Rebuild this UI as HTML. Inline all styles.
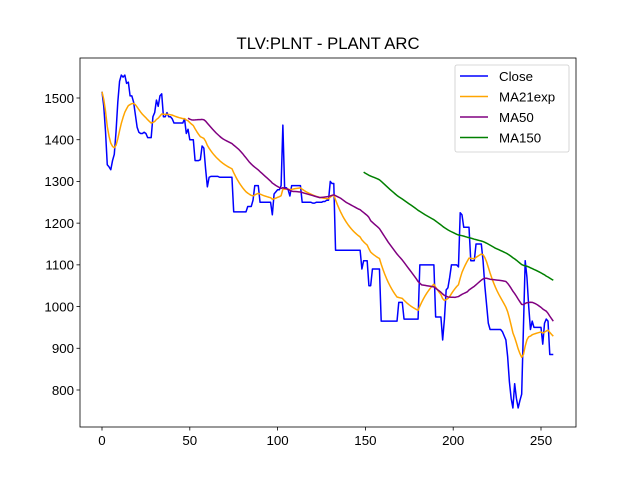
<!DOCTYPE html>
<html><head><meta charset="utf-8"><style>
body{margin:0;background:#fff;}
svg{display:block;font-family:"Liberation Sans","DejaVu Sans",sans-serif;}
</style></head><body>
<svg id="chart" width="640" height="480" viewBox="0 0 640 480"></svg>
<script>
const closeValues=[
1515,1480,1420,1340,1335,1328,1350,1365,1420,1490,
1540,1555,1550,1555,1535,1538,1505,1505,1490,1460,
1430,1418,1415,1415,1418,1415,1405,1405,1405,1455,
1465,1495,1480,1505,1510,1455,1455,1465,1455,1455,
1450,1440,1440,1440,1440,1440,1440,1450,1415,1425,
1400,1400,1400,1350,1350,1350,1352,1385,1380,1330,
1287,1310,1312,1312,1312,1312,1312,1310,1310,1310,
1310,1310,1310,1310,1310,1227,1227,1227,1227,1227,
1227,1227,1227,1240,1240,1240,1255,1290,1290,1290,
1250,1250,1250,1250,1250,1250,1250,1220,1270,1275,
1280,1280,1290,1435,1285,1285,1280,1265,1290,1290,
1290,1290,1290,1290,1250,1250,1250,1250,1250,1250,
1248,1248,1250,1250,1250,1250,1252,1252,1255,1255,
1300,1295,1295,1135,1135,1135,1135,1135,1135,1135,
1135,1135,1135,1135,1135,1135,1135,1135,1090,1110,
1110,1110,1050,1050,1090,1090,1090,1090,1090,965,
965,965,965,965,965,965,965,965,965,1010,
1010,1010,970,970,970,970,970,970,970,970,
970,1100,1100,1100,1100,1100,1100,1100,1100,1100,
975,975,975,975,920,970,1040,1045,1070,1100,
1100,1100,1100,1095,1225,1220,1190,1190,1190,1190,
1110,1110,1110,1150,1150,1150,1150,1110,1050,1005,
960,945,945,945,945,945,945,945,940,930,
920,880,820,780,757,815,780,757,775,790,
950,1110,1070,1000,945,965,950,950,950,950,
950,910,960,970,965,885,885,885];
const xTicks=[0,50,100,150,200,250];
const yTicks=[800,900,1000,1100,1200,1300,1400,1500];
const seriesNames=["Close","MA21exp","MA50","MA150"];
const seriesColors=["#0000ff","#ffa500","#800080","#008000"];

const NS="http://www.w3.org/2000/svg";
const svg=document.getElementById('chart');
const L=80,R=576,T=58,B=427;
const xs=v=>102+v*(439/250);
const ys=v=>98+(1500-v)*(292/700);
function mk(tag,attrs,parent){const e=document.createElementNS(NS,tag);for(const k in attrs)e.setAttribute(k,attrs[k]);(parent||svg).appendChild(e);return e;}

function ema(a,span){const al=2/(span+1);let num=0,den=0;return a.map(v=>{num=v+(1-al)*num;den=1+(1-al)*den;return num/den;});}
function sma(a,n){return a.map((v,i)=>{if(i<n-1)return null;let s=0;for(let j=i-n+1;j<=i;j++)s+=a[j];return s/n;});}
const series=[closeValues,ema(closeValues,21),sma(closeValues,50),sma(closeValues,150)];

const title=mk('text',{x:328,y:49,'text-anchor':'middle','font-size':16.7,fill:'#000'});
title.textContent='TLV:PLNT - PLANT ARC';



const plot=mk('g',{});


series.forEach((s,k)=>{
  let d='';let first=true;
  s.forEach((v,i)=>{if(v==null)return;d+=(first?'M':'L')+xs(i).toFixed(2)+' '+ys(v).toFixed(2);first=false;});
  const p=mk('path',{d:d,fill:'none',stroke:seriesColors[k],'stroke-width':1.5,'stroke-linejoin':'round'},plot);
  
  
});

const frame=mk('rect',{x:L,y:T,width:R-L,height:B-T,fill:'none',stroke:'#000','stroke-width':0.8});



xTicks.forEach(t=>{
  const g=mk('g',{});
  
  
  mk('line',{x1:xs(t),x2:xs(t),y1:B,y2:B+3.5,stroke:'#000','stroke-width':0.8},g);
  const tx=mk('text',{x:xs(t),y:B+18,'text-anchor':'middle','font-size':13.3,fill:'#000'},g);
  tx.textContent=t;
});
yTicks.forEach(t=>{
  const g=mk('g',{});
  
  
  mk('line',{x1:L-3.5,x2:L,y1:ys(t),y2:ys(t),stroke:'#000','stroke-width':0.8},g);
  const tx=mk('text',{x:L-6,y:ys(t)+4.8,'text-anchor':'end','font-size':13.3,fill:'#000'},g);
  tx.textContent=t;
});

const lg=mk('g',{});


mk('rect',{x:455,y:65,width:114,height:87,rx:2,fill:'#fff','fill-opacity':0.8,stroke:'#ccc','stroke-width':0.8},lg);
seriesNames.forEach((n,k)=>{
  const e=mk('g',{},lg);
  
  
  const y=76+k*20.5;
  mk('line',{x1:460,x2:488,y1:y,y2:y,stroke:seriesColors[k],'stroke-width':1.5},e);
  const tx=mk('text',{x:499,y:y+4.8,'font-size':13.3,fill:'#000'},e);
  tx.textContent=n;
});
</script>
</body></html>
